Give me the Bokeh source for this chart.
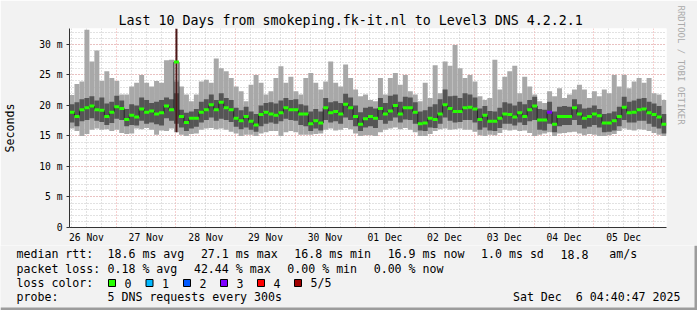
from bokeh.plotting import figure
from bokeh.models import FixedTicker, Range1d, Title
from bokeh.core.properties import value
from bokeh.embed import file_html
from bokeh.resources import INLINE

# ---------------- data ----------------
day_labels = ["26 Nov", "27 Nov", "28 Nov", "29 Nov", "30 Nov",
              "01 Dec", "02 Dec", "03 Dec", "04 Dec", "05 Dec"]
y_tick_values = [0, 5, 10, 15, 20, 25, 30]
y_tick_labels = ["0", "5 m", "10 m", "15 m", "20 m", "25 m", "30 m"]

# median rtt per 2-hour step (ms)
median = [
    18.9, 18.2, 19.3, 19.6, 19.9, 19.3, 19.2, 18.2, 18.9, 19.8,
    19.5, 17.7, 18.4, 18.1, 19.4, 18.9, 19.1, 18.6, 18.8, 19.9,
    19.3, 27.1, 18.2, 17.2, 17.9, 17.9, 18.9, 19.3, 20.1, 19.3,
    20.5, 19.6, 19.3, 17.9, 17.5, 18.2, 17.4, 16.8, 18.5, 18.9,
    18.6, 18.4, 18.8, 19.6, 19.3, 19.3, 18.6, 18.6, 17.0, 17.5,
    17.1, 19.6, 18.8, 19.0, 18.6, 20.2, 19.6, 18.2, 16.9, 17.8,
    18.2, 17.9, 19.5, 18.6, 19.1, 20.0, 18.6, 19.6, 19.6, 18.9,
    17.0, 17.1, 17.9, 17.7, 18.6, 20.1, 19.5, 19.0, 19.0, 19.6,
    19.7, 19.4, 17.7, 18.4, 17.4, 17.4, 17.9, 18.6, 18.5, 18.1,
    18.8, 18.2, 19.3, 19.9, 17.6, 17.6, 18.9, 16.9, 18.2, 18.2,
    18.2, 19.6, 18.6, 17.9, 18.2, 18.6, 18.3, 17.1, 17.1, 17.5,
    18.2, 19.7, 18.8, 18.9, 19.3, 19.4, 18.8, 18.5, 18.1, 16.9]

# slowest ping per step (ms)
ping_max = [
    21.7, 23.5, 23.9, 32.4, 27.2, 29.0, 24.0, 25.6, 24.5, 24.0,
    21.8, 21.8, 23.1, 23.7, 25.0, 23.7, 23.1, 24.0, 23.7, 27.4,
    27.5, 23.9, 23.1, 21.8, 20.7, 21.8, 23.9, 24.2, 23.7, 27.7,
    26.1, 25.6, 24.5, 23.1, 22.3, 20.7, 23.4, 25.0, 23.7, 21.8,
    22.3, 24.5, 26.4, 23.7, 24.7, 22.3, 21.8, 24.5, 25.3, 23.7,
    22.6, 23.9, 27.2, 23.7, 23.1, 26.7, 24.5, 22.6, 21.5, 21.8,
    20.9, 20.7, 24.5, 21.8, 24.5, 25.3, 23.4, 25.0, 22.3, 21.8,
    20.7, 23.7, 21.2, 26.6, 22.0, 27.2, 26.5, 29.9, 26.1, 24.5,
    25.0, 23.9, 21.5, 20.9, 21.2, 27.5, 22.6, 24.7, 25.6, 26.5,
    22.0, 24.7, 23.1, 21.8, 20.7, 20.4, 22.3, 21.5, 22.8, 21.2,
    21.8, 22.6, 23.4, 22.6, 21.2, 22.3, 21.5, 22.6, 22.0, 25.0,
    23.1, 25.0, 22.8, 23.9, 24.5, 23.7, 24.5, 22.0, 21.8, 20.9]

# 4th of 5 pings (upper edge of dark smoke)
ping_4th = [
    20.2, 20.5, 21.0, 21.2, 21.5, 20.8, 21.3, 20.3, 20.6, 21.6,
    20.8, 19.4, 20.2, 20.0, 21.3, 20.9, 20.4, 20.6, 20.9, 21.3,
    21.0, 22.0, 19.3, 18.8, 19.0, 19.4, 20.6, 21.0, 21.8, 20.9,
    22.0, 21.2, 20.9, 19.6, 19.2, 19.8, 19.0, 18.6, 20.0, 20.4,
    20.5, 20.3, 20.8, 21.2, 20.9, 21.0, 20.2, 20.0, 19.0, 19.4,
    19.0, 21.2, 20.5, 20.7, 20.4, 21.9, 21.3, 20.0, 18.9, 19.6,
    19.8, 19.5, 21.2, 20.4, 21.6, 21.8, 20.6, 21.4, 21.3, 20.5,
    19.0, 19.2, 19.8, 20.2, 21.0, 22.6, 21.5, 21.6, 21.2, 22.0,
    21.8, 21.3, 19.5, 19.9, 19.1, 19.0, 19.6, 20.5, 20.3, 20.0,
    20.6, 20.2, 20.9, 21.4, 19.4, 19.3, 20.6, 19.0, 19.8, 19.9,
    19.8, 21.0, 20.2, 19.5, 19.6, 20.0, 19.4, 18.6, 18.7, 19.0,
    19.8, 21.4, 20.6, 20.8, 21.1, 21.2, 20.6, 20.3, 19.9, 18.6]

# 2nd of 5 pings (lower edge of dark smoke)
ping_2nd = [
    17.2, 16.6, 17.4, 17.6, 17.9, 17.5, 17.3, 16.8, 17.1, 17.8,
    17.6, 16.6, 16.8, 16.7, 17.5, 17.0, 17.2, 16.9, 16.7, 17.9,
    17.5, 17.0, 16.4, 15.8, 16.2, 16.5, 17.2, 17.6, 18.0, 17.5,
    17.8, 17.6, 17.3, 16.5, 16.1, 16.4, 16.0, 15.7, 16.6, 17.0,
    17.2, 17.0, 17.4, 17.8, 17.6, 17.5, 16.8, 16.6, 15.8, 16.2,
    15.9, 17.6, 17.2, 17.4, 17.0, 18.0, 17.6, 16.6, 15.8, 16.4,
    16.6, 16.3, 17.6, 17.0, 17.5, 18.0, 17.2, 17.7, 17.6, 17.0,
    15.9, 15.8, 16.4, 16.3, 17.0, 18.0, 17.5, 17.2, 17.3, 17.6,
    17.6, 17.2, 16.0, 16.4, 15.9, 15.8, 16.3, 17.0, 17.0, 16.7,
    17.2, 16.8, 17.4, 17.6, 16.0, 15.9, 17.0, 15.6, 16.6, 16.8,
    16.8, 17.6, 16.8, 16.2, 16.5, 16.8, 16.4, 15.6, 15.7, 15.9,
    16.6, 17.6, 17.2, 17.2, 17.5, 17.5, 17.0, 16.5, 16.2, 15.4]

# fastest ping per step (ms)
ping_min = [
    16.2, 15.8, 15.0, 15.3, 16.0, 16.2, 16.0, 16.1, 15.8, 16.0,
    15.5, 15.3, 15.4, 16.2, 16.1, 16.3, 16.0, 15.2, 15.9, 15.8,
    16.2, 15.6, 15.2, 15.0, 15.3, 15.4, 16.0, 16.2, 16.3, 16.1,
    16.2, 16.0, 15.7, 15.4, 15.0, 15.2, 15.2, 15.0, 15.4, 15.6,
    15.8, 15.8, 15.0, 15.6, 15.8, 15.6, 15.2, 15.2, 15.2, 15.3,
    15.4, 16.0, 16.2, 15.9, 16.0, 16.3, 16.1, 15.4, 15.0, 15.1,
    15.1, 15.0, 15.6, 16.0, 16.2, 16.4, 16.1, 16.3, 16.0, 15.6,
    15.0, 15.0, 15.3, 15.8, 16.1, 16.2, 16.0, 16.1, 16.2, 16.0,
    16.0, 15.7, 15.1, 15.0, 15.2, 15.1, 15.5, 16.0, 15.9, 16.0,
    15.8, 15.9, 15.5, 15.0, 15.2, 15.4, 15.6, 15.0, 15.4, 15.5,
    15.6, 15.7, 15.4, 15.1, 15.3, 15.2, 15.0, 15.0, 15.1, 15.3,
    15.8, 16.2, 16.0, 15.9, 16.1, 16.0, 15.8, 15.5, 15.2, 15.0]

# steps with lost pings: step index -> lost pings (of 5)
loss_steps = {21: 5, 96: 3}

loss_names = ["0", "1", "2", "3", "4", "5/5"]
loss_colors = ["#26ff00", "#00b8ff", "#0059ff", "#7e00ff", "#ff0000", "#a00000"]

legend_heads = ["median rtt:", "packet loss:", "loss color:", "probe:"]
rtt_items = ["18.6 ms avg", "27.1 ms max", "16.8 ms min", "16.9 ms now", "1.0 ms sd", "18.8"]
rtt_unit = "am/s"
loss_items = ["0.18 % avg", "42.44 % max", "0.00 % min", "0.00 % now"]
probe_text = "5 DNS requests every 300s"
title = "Last 10 Days from smokeping.fk-it.nl to Level3 DNS 4.2.2.1"
watermark = "RRDTOOL / TOBI OETIKER"
stamp_parts = ["Sat Dec", "6 04:40:47 2025"]

# ---------------- layout constants ----------------
MONO = "DejaVu Sans Mono"
W = 697
H_MAIN = 245
H_LEG = 310 - H_MAIN
BG = "#f2f2f2"
FS = 11.6
CW = 0.602 * FS          # monospace advance
GAP = 2 * CW + 2.6       # rrdtool spacing between legend items

# time axis: hours since 26 Nov 00:00
start_h = 5.2
step_h = 2.0
n = len(median)
t0 = [start_h + i * step_h for i in range(n)]
t1 = [t + step_h for t in t0]
end_h = start_h + 240.0
ymax = 32.6

p = figure(width=W, height=H_MAIN, output_backend="svg", toolbar_location=None,
           x_range=Range1d(start_h, end_h), y_range=Range1d(0, ymax),
           min_border_left=67, min_border_right=30, min_border_top=28,
           min_border_bottom=H_MAIN - 228)
p.background_fill_color = "white"
p.border_fill_color = BG
p.outline_line_color = None

p.title.text = title
p.title.text_font = MONO
p.title.text_font_size = "13.3px"
p.title.text_font_style = "normal"
p.title.text_color = "#000000"
p.title.align = "left"
p.title.offset = 49
p.title.standoff = 2

p.add_layout(Title(text=watermark, text_font=MONO, text_font_size="9px",
                   text_font_style="normal", text_color="#aaaaaa", align="left",
                   offset=-23, standoff=19), "right")

# grids
midnights = [24.0 * k for k in range(1, 11)]
six_h = [6.0 * k for k in range(1, 41) if (6 * k) % 24 != 0]
p.xgrid.ticker = FixedTicker(ticks=midnights, minor_ticks=six_h)
p.ygrid.ticker = FixedTicker(ticks=y_tick_values, minor_ticks=list(range(1, 33)))
for g in (p.xgrid, p.ygrid):
    g.grid_line_color = "#f0a0a0"
    g.grid_line_dash = "1 2"
    g.minor_grid_line_color = "#c4c4c4"
    g.minor_grid_line_dash = "1 2"

# axes
noons = [12.0 + 24.0 * k for k in range(10)]
p.xaxis.ticker = FixedTicker(ticks=noons)
p.xaxis.major_label_overrides = {t: lab for t, lab in zip(noons, day_labels)}
p.xaxis.major_tick_line_color = None
p.xaxis.major_tick_out = 0
p.xaxis.major_tick_in = 0
p.xaxis.minor_tick_line_color = None
p.xaxis.major_label_standoff = 4
p.yaxis.ticker = FixedTicker(ticks=y_tick_values)
p.yaxis.major_label_overrides = {v: lab for v, lab in zip(y_tick_values, y_tick_labels)}
p.yaxis.major_tick_out = 3
p.yaxis.major_tick_in = 0
p.yaxis.minor_tick_line_color = None
p.yaxis.major_tick_line_color = "#333333"
p.yaxis.major_label_standoff = 4
p.yaxis.axis_label = "Seconds"
p.yaxis.axis_label_text_font = MONO
p.yaxis.axis_label_text_font_size = "11.6px"
p.yaxis.axis_label_text_font_style = "normal"
p.yaxis.axis_label_text_color = "#000000"
p.yaxis.axis_label_standoff = 19
for ax in (p.xaxis, p.yaxis):
    ax.axis_line_color = "#333333"
    ax.major_label_text_font = MONO
    ax.major_label_text_font_size = "9.7px"
    ax.major_label_text_color = "#000000"

# smoke
p.quad(left=t0, right=t1, bottom=ping_min, top=ping_max, fill_color="#a8a8a8", line_color=None)
p.quad(left=t0, right=t1, bottom=ping_2nd, top=ping_4th, fill_color="#555555", line_color=None)

# complete-loss steps: dark column to the top
spike_idx = [i for i, lost in loss_steps.items() if lost == 5]
p.quad(left=[t0[i] + 0.6 for i in spike_idx], right=[t0[i] + 1.4 for i in spike_idx],
       bottom=[ping_min[i] for i in spike_idx], top=[ymax for _ in spike_idx],
       fill_color="#4a1818", line_color=None)

# median: connectors then coloured steps
p.segment(x0=t0[1:], x1=t0[1:], y0=median[:-1], y1=median[1:], line_color="#222222", line_width=1)
med_colors = [loss_colors[loss_steps.get(i, 0)] if loss_steps.get(i, 0) < 5 else loss_colors[0]
              for i in range(n)]
p.segment(x0=t0, x1=t1, y0=median, y1=median, line_color=med_colors, line_width=3)

# ---------------- legend strip (separate root, pixel coordinates) ----------------
q = figure(width=W, height=H_LEG, output_backend="svg", toolbar_location=None,
           x_range=Range1d(0, W), y_range=Range1d(H_LEG, 0),
           min_border=0, x_axis_location=None, y_axis_location=None)
q.xgrid.visible = False
q.ygrid.visible = False
q.background_fill_color = BG
q.border_fill_color = BG
q.outline_line_color = None

row_y = [253.5 - H_MAIN, 268 - H_MAIN, 282.5 - H_MAIN, 296.5 - H_MAIN]
txt_x, txt_y, txt = [], [], []


def add_txt(x, y, s):
    txt_x.append(x)
    txt_y.append(y)
    txt.append(s)


for head, yy in zip(legend_heads, row_y):
    add_txt(16, yy, head)


def place_items(items, yy):
    x = 107.0
    for s in items:
        add_txt(x, yy, s)
        last = x
        x += len(s) * CW + GAP
    return last


last_x = place_items(rtt_items, row_y[0])
add_txt(last_x + (len(rtt_items[-1]) + 3) * CW, row_y[0], rtt_unit)
place_items(loss_items, row_y[1])
add_txt(107, row_y[3], probe_text)

sw_x = [108, 145.5, 183, 220, 257, 294]
for s, name in zip(sw_x, loss_names):
    add_txt(s + 16, row_y[2], name)

q.text(x=txt_x, y=txt_y, text=txt, text_font=value(MONO), text_font_size=value("%.1fpx" % FS),
       text_baseline="middle", text_color="#000000")

q.quad(left=sw_x, right=[s + 7 for s in sw_x], top=[row_y[2] - 3.5] * 6, bottom=[row_y[2] + 3.5] * 6,
       fill_color=loss_colors, line_color="#000000", line_width=1)

# right-aligned timestamp (two parts keep the double space)
stamp_right = 680
q.text(x=[stamp_right - len(stamp_parts[1]) * CW - 2 * CW, stamp_right], y=[row_y[3]] * 2,
       text=stamp_parts, text_font=value(MONO), text_font_size=value("%.1fpx" % FS),
       text_baseline="middle", text_align="right", text_color="#000000")

# bottom/right shading of the window frame
q.quad(left=[0, W - 3], right=[W, W], top=[H_LEG - 3, 0], bottom=[H_LEG, H_LEG],
       fill_color="#9c9c9c", line_color=None)

open("out.html", "w").write(file_html([p, q], INLINE))
